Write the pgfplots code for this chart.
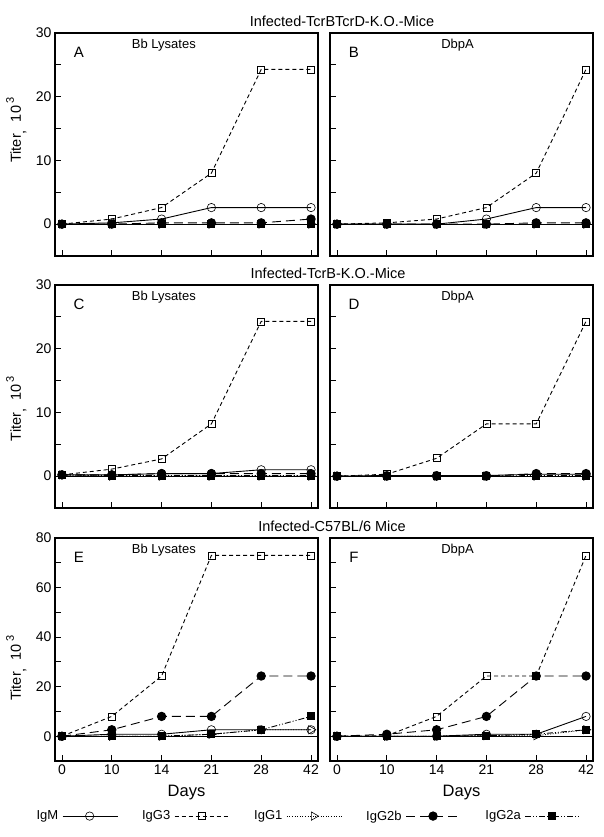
\documentclass[border=0pt]{standalone}
\usepackage{fontspec}
\setmainfont{Liberation Sans}
\setsansfont{Liberation Sans}
\usepackage{pgfplots}
\pgfplotsset{compat=1.18}

\pgfplotsset{
  panel/.style={
    scale only axis, width=263pt, height=223pt,
    xmin=-0.14, xmax=5.14,
    xtick={0,1,2,3,4,5}, xticklabels={0,10,14,21,28,42},
    xtick pos=bottom, ytick pos=left,
    axis line style={line width=1.2pt},
    tick style={line width=0.8pt, black},
    major tick length=6pt, minor tick length=6pt,
    tick label style={font=\fontsize{14}{16}\selectfont},
    /pgf/number format/assume math mode=true,
    label style={font=\fontsize{14}{16}\selectfont},
  },
  lowrange/.style={ymin=-5, ymax=30, ytick={0,10,20,30}, minor ytick={5,15,25}},
  highrange/.style={ymin=-10, ymax=80, ytick={0,20,40,60,80}, minor ytick={10,30,50,70}},
  noxlab/.style={xticklabels={}},
  noylab/.style={yticklabels={}},
  tlab/.style={ylabel={Titer\raisebox{-0.5ex}{,}\ \ 10\,\raisebox{0.9ex}{\fontsize{11}{12}\selectfont 3}},
     ylabel style={at={(axis description cs:-0.095,#1)}, anchor=south, font=\fontsize{14.5}{16}\selectfont}},
  igm/.style={black, line width=0.9pt, solid, mark=o, mark size=4.2pt, mark options={solid, line width=0.6pt}},
  igg3/.style={black, line width=0.9pt, dash pattern=on 4pt off 3pt, mark=square, mark size=3.5pt, mark options={solid, line width=0.6pt}},
  igg1/.style={black, line width=0.8pt, dash pattern=on 1pt off 1.6pt, mark=triangle, mark size=4.8pt, mark options={solid, line width=0.6pt, rotate=-90}},
  igg2b/.style={black, line width=0.9pt, dash pattern=on 9pt off 5pt, mark=*, mark size=4.2pt, mark options={solid}},
  igg2a/.style={black, line width=0.9pt, dash pattern=on 6pt off 2pt on 1pt off 2pt on 1pt off 2pt, mark=square*, mark size=3.5pt, mark options={solid}},
}
\newcommand{\zeroline}{\draw[line width=0.8pt] (axis cs:-0.14,0) -- (axis cs:5.14,0);}
\newcommand{\letter}[1]{\node[font=\fontsize{15}{17}\selectfont] at (rel axis cs:0.091,0.915) {#1};}
\newcommand{\sublab}[2]{\node[font=\fontsize{13}{15}\selectfont] at (rel axis cs:#1,0.946) {#2};}

\begin{document}
\begin{tikzpicture}
\useasboundingbox (0pt,0pt) rectangle (604pt,837pt);

\node[font=\fontsize{14.5}{16}\selectfont] at (342pt,816pt) {Infected-TcrBTcrD-K.O.-Mice};
\node[font=\fontsize{14.5}{16}\selectfont] at (328pt,564pt) {Infected-TcrB-K.O.-Mice};
\node[font=\fontsize{14.5}{16}\selectfont] at (332pt,311pt) {Infected-C57BL/6 Mice};

% A
\begin{axis}[panel, lowrange, noxlab, tlab=0.565, at={(55pt,581pt)}, anchor=south west]
\zeroline
\addplot[igm] coordinates {(0,0) (1,0.2) (2,0.8) (3,2.6) (4,2.6) (5,2.6)};
\addplot[igg3] coordinates {(0,0) (1,0.8) (2,2.6) (3,8) (4,24.3) (5,24.3)};
\addplot[igg1] coordinates {(0,0) (1,0) (2,0) (3,0) (4,0) (5,0)};
\addplot[igg2b] coordinates {(0,0) (1,0) (2,0.2) (3,0.2) (4,0.2) (5,0.8)};
\addplot[igg2a] coordinates {(0,0) (1,0) (2,0) (3,0) (4,0) (5,0)};
\letter{A}\sublab{0.414}{Bb Lysates}
\end{axis}

% B
\begin{axis}[panel, lowrange, noxlab, noylab, at={(330pt,581pt)}, anchor=south west]
\zeroline
\addplot[igm] coordinates {(0,0) (1,0) (2,0) (3,0.8) (4,2.6) (5,2.6)};
\addplot[igg3] coordinates {(0,0) (1,0.2) (2,0.8) (3,2.6) (4,8) (5,24.3)};
\addplot[igg1] coordinates {(0,0) (1,0) (2,0) (3,0) (4,0) (5,0)};
\addplot[igg2b] coordinates {(0,0) (1,0) (2,0) (3,0) (4,0.2) (5,0.2)};
\addplot[igg2a] coordinates {(0,0) (1,0) (2,0) (3,0) (4,0) (5,0)};
\letter{B}\sublab{0.485}{DbpA}
\end{axis}

% C
\begin{axis}[panel, lowrange, noxlab, tlab=0.446, at={(55pt,329pt)}, anchor=south west]
\zeroline
\addplot[igm] coordinates {(0,0.2) (1,0.2) (2,0.4) (3,0.4) (4,1.0) (5,1.0)};
\addplot[igg3] coordinates {(0,0.2) (1,1.1) (2,2.7) (3,8.2) (4,24.3) (5,24.3)};
\addplot[igg1] coordinates {(0,0.2) (1,0) (2,0) (3,0) (4,0) (5,0)};
\addplot[igg2b] coordinates {(0,0.2) (1,0.2) (2,0.4) (3,0.4) (4,0.4) (5,0.4)};
\addplot[igg2a] coordinates {(0,0.2) (1,0.1) (2,0.1) (3,0.1) (4,0.1) (5,0.1)};
\letter{C}\sublab{0.414}{Bb Lysates}
\end{axis}

% D
\begin{axis}[panel, lowrange, noxlab, noylab, at={(330pt,329pt)}, anchor=south west]
\zeroline
\addplot[igm] coordinates {(0,0) (1,0.1) (2,0.1) (3,0.1) (4,0.3) (5,0.3)};
\addplot[igg3] coordinates {(0,0) (1,0.3) (2,2.8) (3,8.2) (4,8.2) (5,24.3)};
\addplot[igg1] coordinates {(0,0) (1,0) (2,0) (3,0) (4,0) (5,0)};
\addplot[igg2b] coordinates {(0,0) (1,0) (2,0) (3,0) (4,0.4) (5,0.4)};
\addplot[igg2a] coordinates {(0,0) (1,0) (2,0) (3,0) (4,0.1) (5,0.1)};
\letter{D}\sublab{0.485}{DbpA}
\end{axis}

% E
\begin{axis}[panel, highrange, tlab=0.417, xlabel={Days},
  xlabel style={font=\fontsize{16.5}{18}\selectfont, yshift=-4pt},
  at={(55pt,76pt)}, anchor=south west,
  legend columns=5, legend plot pos=right,
  legend style={draw=none, fill=none, font=\fontsize{13}{15}\selectfont,
    at={(axis description cs:-0.09,-0.247)}, anchor=west,
    /tikz/every odd column/.append style={column sep=2pt},
    /tikz/every even column/.append style={column sep=22pt}},
  legend image code/.code={\draw[mark repeat=2,mark phase=2,#1] plot coordinates {(0pt,0pt) (27pt,0pt) (55pt,0pt)};}]
\zeroline
\addplot[igm] coordinates {(0,0) (1,0.8) (2,0.8) (3,2.6) (4,2.6) (5,2.6)};
\addlegendentry{IgM}
\addplot[igg3] coordinates {(0,0) (1,8) (2,24.3) (3,73) (4,73) (5,73)};
\addlegendentry{IgG3}
\addplot[igg1] coordinates {(0,0) (1,0) (2,0) (3,0.8) (4,2.6) (5,2.6)};
\addlegendentry{IgG1}
\addplot[igg2b] coordinates {(0,0) (1,2.6) (2,8) (3,8) (4,24.3) (5,24.3)};
\addlegendentry{IgG2b}
\addplot[igg2a] coordinates {(0,0) (1,0) (2,0) (3,0.8) (4,2.6) (5,8)};
\addlegendentry{IgG2a}
\letter{E}\sublab{0.414}{Bb Lysates}
\end{axis}

% F
\begin{axis}[panel, highrange, noylab, xlabel={Days},
  xlabel style={font=\fontsize{16.5}{18}\selectfont, yshift=-4pt},
  at={(330pt,76pt)}, anchor=south west]
\zeroline
\addplot[igm] coordinates {(0,0) (1,0) (2,0) (3,0.8) (4,0.8) (5,8)};
\addplot[igg3] coordinates {(0,0) (1,0.2) (2,8) (3,24.3) (4,24.3) (5,73)};
\addplot[igg1] coordinates {(0,0) (1,0) (2,0) (3,0.2) (4,0.2) (5,2.6)};
\addplot[igg2b] coordinates {(0,0) (1,0.8) (2,2.6) (3,8) (4,24.3) (5,24.3)};
\addplot[igg2a] coordinates {(0,0) (1,0) (2,0) (3,0.2) (4,0.8) (5,2.6)};
\letter{F}\sublab{0.485}{DbpA}
\end{axis}
\end{tikzpicture}
\end{document}
